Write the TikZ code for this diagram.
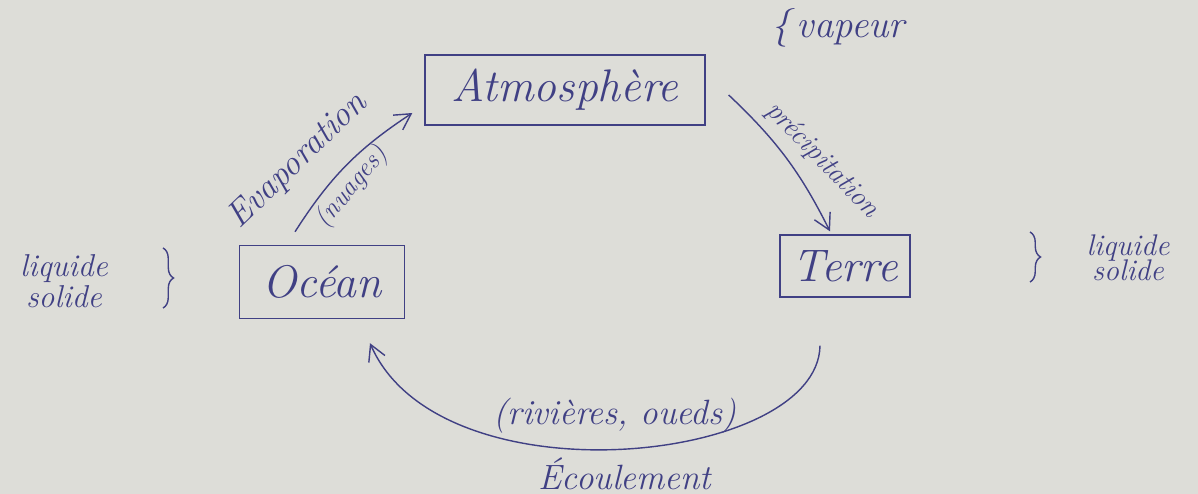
\documentclass[tikz,border=0pt]{standalone}
\usepackage{xcolor}
\usepackage{tikz}
\usetikzlibrary{positioning}
\usetikzlibrary{arrows.meta}
\usetikzlibrary{decorations.pathreplacing}
\definecolor{ink}{RGB}{64,64,132}
\definecolor{paper}{RGB}{221,221,216}

\begin{document}
\begin{tikzpicture}[x=0.02cm,y=0.02cm,
  box/.style={draw=ink,thick,text=ink,inner sep=0pt,font=\fontsize{26}{28}\selectfont\itshape},
  note/.style={text=ink,inner sep=1pt,font=\fontsize{#1}{#1}\selectfont\itshape},
  flow/.style={-{Straight Barb[length=9pt,width=10pt]},thick,ink},
  brc/.style={decorate,decoration={brace,amplitude=6pt},thick,ink}]
\fill[paper] (0,0) rectangle (1198,494);
\useasboundingbox (0,0) rectangle (1198,494);

%reservoirs
\node[box,minimum width=5.6cm,minimum height=1.4cm] (atmo) at (565,404) {Atmosphère};
\node[box,minimum width=3.3cm,minimum height=1.46cm] (ocean) at (322,212) {Océan};
\node[box,minimum width=2.6cm,minimum height=1.24cm] (terre) at (845,228) {Terre};

%flux
\draw[flow] ([shift={(-27,13)}]ocean.north) to[bend left=12] ([shift={(-12,-23)}]atmo.west);
\draw[flow] ([shift={(23,-5)}]atmo.east) to[bend left=10] ([shift={(-15,3)}]terre.north);
\draw[flow] ([shift={(-25,-48)}]terre.south) .. controls (818,30) and (440,-10) .. ([shift={(48,-24)}]ocean.south);

%labels
\node[note=20,rotate=44] (evap) at (298,333) {Evaporation};
\node[note=15,rotate=50] (nuages) at (352,307) {(nuages)};
\node[note=16,rotate=-46] (precip) at (822,334) {précipitation};
\node[note=20] (riv) at (615,78) {(rivières, oueds)};
\node[note=20] (ecoul) at (625,20) {Écoulement};

%etats
\node[note=22] (vapeur) at (838,466) {\{\,vapeur};
\node[note=18,align=center] (liqg) at (64,213) {liquide\\solide};
\draw[brc] (163,246) -- (163,186);
\node[note=17,align=center] (liqd) at (1128,236) {liquide\\[-3pt]solide};
\draw[brc] (1030,262) -- (1030,212);

\end{tikzpicture}
\end{document}
